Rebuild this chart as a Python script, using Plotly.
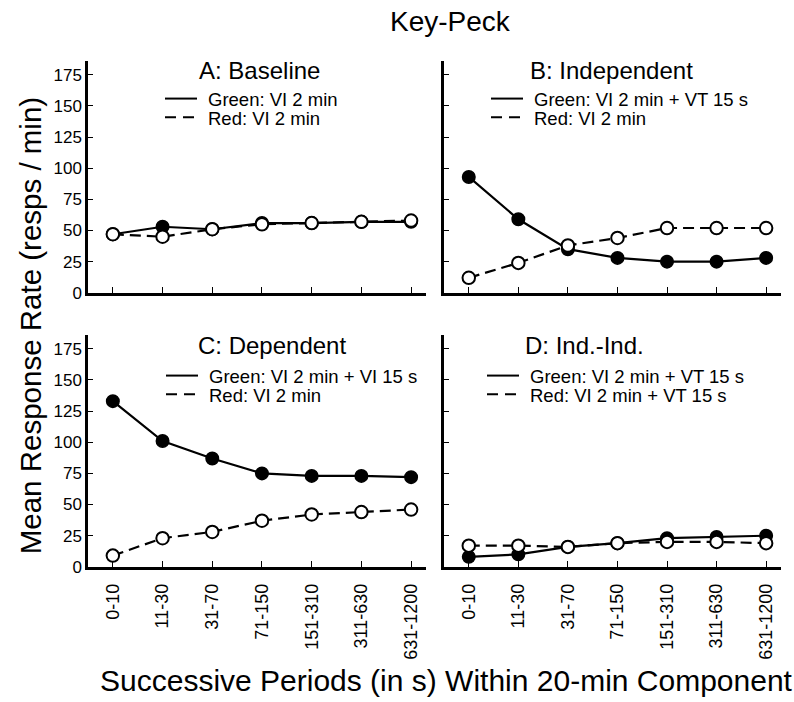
import plotly.graph_objects as go

# Successive periods (s) within the 20-min component
categories = ["0-10", "11-30", "31-70", "71-150", "151-310", "311-630", "631-1200"]

# Mean response rates (resps/min) for each condition
baseline_green = [47, 53, 51, 56, 56, 57, 57]
baseline_red = [47, 45, 51, 55, 56, 57, 58]
independent_green = [93, 59, 35, 28, 25, 25, 28]
independent_red = [12, 24, 38, 44, 52, 52, 52]
dependent_green = [133, 101, 87, 75, 73, 73, 72]
dependent_red = [9, 23, 28, 37, 42, 44, 46]
indind_green = [8, 10, 16, 19, 23, 24, 25]
indind_red = [17, 17, 16, 19, 20, 20, 19]

panel_titles = ["A: Baseline", "B: Independent", "C: Dependent", "D: Ind.-Ind."]
green_labels = ["Green: VI 2 min", "Green: VI 2 min + VT 15 s",
                "Green: VI 2 min + VI 15 s", "Green: VI 2 min + VT 15 s"]
red_labels = ["Red: VI 2 min", "Red: VI 2 min",
              "Red: VI 2 min", "Red: VI 2 min + VT 15 s"]
y_ticks = [0, 25, 50, 75, 100, 125, 150, 175]

W, H = 794, 702
FONT = "Liberation Sans, Arial, sans-serif"


def px(x):
    return x / W


def py(y):
    return 1 - y / H


# panel boxes in pixels: (left, right, top, bottom)
boxes = [(88, 426, 62, 297), (444, 781, 62, 297),
         (88, 426, 340, 575), (444, 781, 340, 575)]
# horizontal centre of each panel heading and left end of each key
title_centres = [259, 611, 272, 584]
key_lefts = [165, 491, 166, 487]

series = [(baseline_green, baseline_red), (independent_green, independent_red),
          (dependent_green, dependent_red), (indind_green, indind_red)]

fig = go.Figure()
layout = dict(
    width=W, height=H, margin=dict(l=0, r=0, t=0, b=0),
    paper_bgcolor="white", plot_bgcolor="white", showlegend=False,
    font=dict(family=FONT, color="black"),
)
annotations = []
shapes = []

for i, ((l, r, t, b), (g, rd)) in enumerate(zip(boxes, series)):
    n = i + 1
    xa = "x" if n == 1 else f"x{n}"
    ya = "y" if n == 1 else f"y{n}"
    fig.add_trace(go.Scatter(
        x=categories, y=g, xaxis=xa, yaxis=ya, mode="lines+markers",
        line=dict(color="black", width=2.2),
        marker=dict(symbol="circle", size=12.5, color="black",
                    line=dict(color="black", width=1.5)),
        cliponaxis=False,
    ))
    fig.add_trace(go.Scatter(
        x=categories, y=rd, xaxis=xa, yaxis=ya, mode="lines+markers",
        line=dict(color="black", width=2.2, dash="11px,6px"),
        marker=dict(symbol="circle", size=12.5, color="white",
                    line=dict(color="black", width=2)),
        cliponaxis=False,
    ))
    bottom_row = i >= 2
    left_col = i % 2 == 0
    layout["xaxis" if n == 1 else f"xaxis{n}"] = dict(
        domain=[px(l), px(r)], anchor=ya, type="category",
        range=[-0.5, 6.3], showgrid=False, zeroline=False,
        showline=True, linecolor="black", linewidth=2.5,
        ticks="inside", ticklen=6, tickwidth=1, tickcolor="black",
        showticklabels=bottom_row, tickangle=-90, ticklabelstandoff=7,
        tickfont=dict(family=FONT, size=18, color="black"),
    )
    layout["yaxis" if n == 1 else f"yaxis{n}"] = dict(
        domain=[py(b), py(t)], anchor=xa, range=[0, 186],
        tickvals=y_ticks, showgrid=False, zeroline=False,
        showline=True, linecolor="black", linewidth=2.5,
        ticks="inside", ticklen=5, tickwidth=1, tickcolor="black",
        showticklabels=left_col,
        tickfont=dict(family=FONT, size=17, color="black"),
    )

    # panel heading and line-style key
    annotations.append(dict(
        text=panel_titles[i], x=px(title_centres[i]), y=py(t + 10),
        xref="paper", yref="paper", xanchor="center", yanchor="middle",
        showarrow=False, font=dict(family=FONT, size=24, color="black"),
    ))
    key_l = key_lefts[i]
    key_r = key_l + 32
    for k, (lab, dash) in enumerate([(green_labels[i], "solid"),
                                     (red_labels[i], "dash")]):
        yy = t + 38 + 19 * k + (3 if i >= 2 else 0)
        shapes.append(dict(
            type="line", xref="paper", yref="paper",
            x0=px(key_l), x1=px(key_r), y0=py(yy), y1=py(yy),
            line=dict(color="black", width=2,
                      dash="solid" if dash == "solid" else "11px,7px"),
        ))
        annotations.append(dict(
            text=lab, x=px(key_r + 9), y=py(yy + 1),
            xref="paper", yref="paper", xanchor="left", yanchor="middle",
            showarrow=False, font=dict(family=FONT, size=18.5, color="black"),
        ))

annotations.append(dict(
    text="Key-Peck", x=px(450), y=py(22), xref="paper", yref="paper",
    xanchor="center", yanchor="middle", showarrow=False,
    font=dict(family=FONT, size=28, color="black"),
))
annotations.append(dict(
    text="Mean Response Rate (resps / min)", x=px(30), y=py(331),
    xref="paper", yref="paper", xanchor="center", yanchor="middle",
    textangle=-90, showarrow=False,
    font=dict(family=FONT, size=29.5, color="black"),
))
annotations.append(dict(
    text="Successive Periods (in s) Within 20-min Component", x=px(446), y=py(690),
    xref="paper", yref="paper", xanchor="center", yanchor="middle",
    showarrow=False, font=dict(family=FONT, size=30, color="black"),
))

layout["annotations"] = annotations
layout["shapes"] = shapes
fig.update_layout(**layout)
fig.write_html("out.html")
